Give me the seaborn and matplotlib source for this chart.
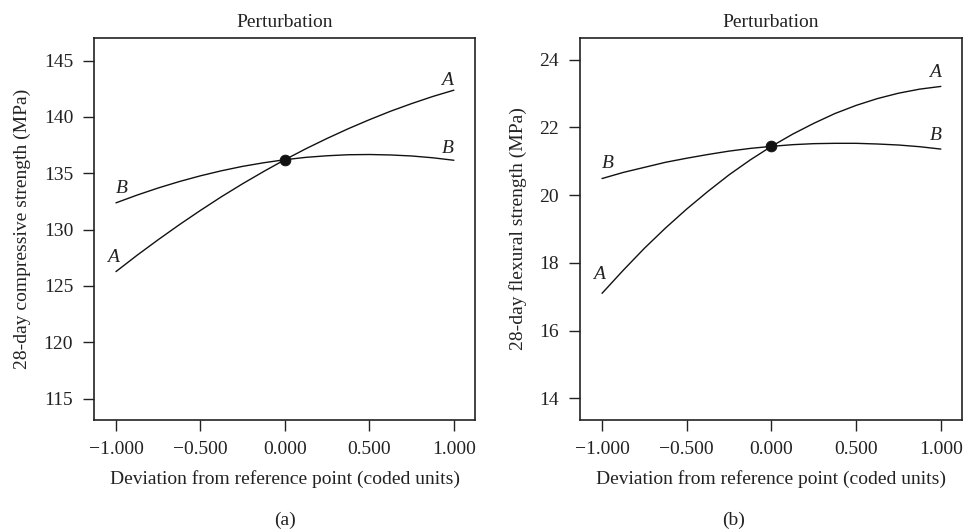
import numpy as np
import pandas as pd
import matplotlib
matplotlib.use("Agg")
import matplotlib.pyplot as plt
import seaborn as sns

# ---- data ----
x_dev = [-1.0, -0.875, -0.75, -0.625, -0.5, -0.375, -0.25, -0.125, 0.0,
         0.125, 0.25, 0.375, 0.5, 0.625, 0.75, 0.875, 1.0]

comp_A = [126.27, 127.72, 129.10, 130.43, 131.70, 132.92, 134.07, 135.16, 136.20,
          137.18, 138.09, 138.95, 139.75, 140.50, 141.18, 141.81, 142.37]
comp_B = [132.37, 133.06, 133.69, 134.26, 134.77, 135.22, 135.61, 135.93, 136.20,
          136.41, 136.55, 136.64, 136.66, 136.62, 136.53, 136.37, 136.15]

flex_A = [17.10, 17.78, 18.43, 19.03, 19.59, 20.11, 20.60, 21.04, 21.44,
          21.80, 22.12, 22.41, 22.65, 22.85, 23.01, 23.13, 23.21]
flex_B = [20.49, 20.67, 20.82, 20.97, 21.09, 21.20, 21.30, 21.38, 21.44,
          21.49, 21.52, 21.53, 21.53, 21.51, 21.48, 21.43, 21.36]

ref_point_x = [0.0]
comp_ref = [136.20]
flex_ref = [21.44]

x_ticks = [-1.0, -0.5, 0.0, 0.5, 1.0]
comp_ticks = [115, 120, 125, 130, 135, 140, 145]
flex_ticks = [14, 16, 18, 20, 22, 24]

titles = ["Perturbation", "Perturbation"]
ylabels = ["28-day compressive strength (MPa)", "28-day flexural strength (MPa)"]
xlabel = "Deviation from reference point (coded units)"
panel_tags = ["(a)", "(b)"]

sns.set_theme(style="ticks")
plt.rcParams["font.family"] = ["Liberation Serif", "DejaVu Serif"]
plt.rcParams["axes.unicode_minus"] = True

FS = 14
INK = "#222222"

fig = plt.figure(figsize=(9.66, 5.31), dpi=100)
ax1 = fig.add_axes([94/966, 1-420/531, (475-94)/966, (420-38)/531])
ax2 = fig.add_axes([580/966, 1-420/531, (962-580)/966, (420-38)/531])

def fmt(v):
    s = f"{abs(v):.3f}"
    return ("\u2212" + s) if v < 0 else s

panels = [
    (ax1, comp_A, comp_B, comp_ref, comp_ticks, (113.1, 147.0),
     {"A": [(-1.02, 127.5), (0.96, 143.25)], "B": [(-0.966, 133.64), (0.966, 137.19)]}),
    (ax2, flex_A, flex_B, flex_ref, flex_ticks, (13.36, 24.64),
     {"A": [(-1.016, 17.65), (0.965, 23.61)], "B": [(-0.966, 20.92), (0.97, 21.75)]}),
]

for i, (ax, yA, yB, yref, yt, ylim, labs) in enumerate(panels):
    df = pd.DataFrame({
        "x": x_dev + x_dev,
        "y": yA + yB,
        "factor": ["A"] * len(x_dev) + ["B"] * len(x_dev),
    })
    sns.lineplot(data=df, x="x", y="y", units="factor", estimator=None,
                 color="#111111", linewidth=1.0, ax=ax, legend=False)
    sns.scatterplot(x=ref_point_x, y=yref, color="#111111", s=60,
                    edgecolor="#111111", zorder=5, ax=ax, legend=False)
    for name, pts in labs.items():
        for (tx, ty) in pts:
            ax.text(tx, ty, name, fontsize=FS, fontstyle="italic",
                    ha="center", va="center", color=INK)
    ax.set_xlim(-1.13, 1.125)
    ax.set_ylim(*ylim)
    ax.set_xticks(x_ticks)
    ax.set_xticklabels([fmt(v) for v in x_ticks])
    ax.set_yticks(yt)
    ax.set_yticklabels([str(v) for v in yt])
    ax.tick_params(axis="both", direction="out", length=8, width=1.0,
                   colors=INK, labelsize=FS, labelcolor=INK)
    ax.tick_params(axis="x", pad=7)
    ax.tick_params(axis="y", pad=7)
    for sp in ax.spines.values():
        sp.set_visible(True)
        sp.set_linewidth(1.2)
        sp.set_color(INK)
    ax.set_title(titles[i], fontsize=FS, color=INK, pad=8)
    ax.set_xlabel(xlabel, fontsize=FS, color=INK, labelpad=9)
    ax.set_ylabel(ylabels[i], fontsize=FS, color=INK, labelpad=9)

fig.text(285/966, 1-520/531, panel_tags[0], ha="center", va="center",
         fontsize=FS, color=INK)
fig.text(734/966, 1-520/531, panel_tags[1], ha="center", va="center",
         fontsize=FS, color=INK)

fig.savefig("out.png", dpi=100, facecolor="white")
